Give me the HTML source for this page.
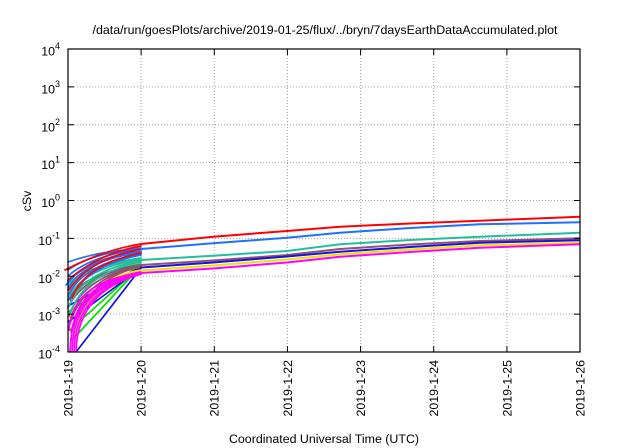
<!DOCTYPE html>
<html><head><meta charset="utf-8"><style>
html,body{margin:0;padding:0;background:#fff;}
svg{display:block;}
text{font-family:"Liberation Sans",Arial,sans-serif;fill:#000;}
</style></head><body>
<svg width="640" height="448" viewBox="0 0 640 448" xmlns="http://www.w3.org/2000/svg">
<rect width="640" height="448" fill="#fff"/>
<defs><clipPath id="pc"><rect x="63" y="49" width="517" height="303"/></clipPath></defs>
<!-- grid -->
<g stroke="#a0a0a0" stroke-width="1" stroke-dasharray="1,2" fill="none">
<line x1="141.1" y1="49" x2="141.1" y2="352"/>
<line x1="214.3" y1="49" x2="214.3" y2="352"/>
<line x1="287.4" y1="49" x2="287.4" y2="352"/>
<line x1="360.6" y1="49" x2="360.6" y2="352"/>
<line x1="433.7" y1="49" x2="433.7" y2="352"/>
<line x1="506.9" y1="49" x2="506.9" y2="352"/>
<line x1="68" y1="314.1" x2="580" y2="314.1"/>
<line x1="68" y1="276.3" x2="580" y2="276.3"/>
<line x1="68" y1="238.4" x2="580" y2="238.4"/>
<line x1="68" y1="200.5" x2="580" y2="200.5"/>
<line x1="68" y1="162.6" x2="580" y2="162.6"/>
<line x1="68" y1="124.8" x2="580" y2="124.8"/>
<line x1="68" y1="86.9" x2="580" y2="86.9"/>
</g>
<!-- data -->
<g clip-path="url(#pc)" fill="none" stroke-width="1.7" stroke-linejoin="round" stroke-linecap="round">
<g stroke="#00dd00">
<path d="M72,340 L141,266"/><path d="M70,330 L141,266"/><path d="M68,312 L141,265"/><path d="M68,300 C80,282 108,270 141,264"/>
</g>
<g stroke="#1414e6">
<path d="M76,352 L141,268"/><path d="M68,322 L141,268"/><path d="M68,306 L141,267"/>
</g>
<g stroke="#f2e200">
<path d="M70,318 C79,292 108,276 141,270"/><path d="M72,328 C80,298 108,278 141,271"/><path d="M73,338 C80,302 108,279 141,271"/>
</g>
<g stroke="#94506e">
<path d="M68,300 C79,280 108,269 141,265"/><path d="M68,308 C78,284 108,270 141,265"/><path d="M69,316 C78,288 108,271 141,266"/><path d="M70,324 C79,292 108,272 141,266"/><path d="M71,332 C80,296 108,273 141,267"/>
</g>
<g stroke="#20c09c">
<path d="M68,284 C82,270 110,262 141,258"/><path d="M68,290 C80,272 108,263 141,259"/><path d="M68,298 C79,276 108,264 141,260"/><path d="M69,306 C79,280 108,266 141,261"/><path d="M70,314 C80,284 108,268 141,262"/>
</g>
<g stroke="#2070ff">
<path d="M68,262 C88,255 112,250 141,249"/><path d="M68,270 C85,258 112,251 141,248"/><path d="M68,276 C84,262 110,253 141,249"/><path d="M68,282 C82,265 110,255 141,251"/><path d="M68,288 C80,268 108,257 141,252"/><path d="M69,294 C80,272 108,259 141,254"/><path d="M70,300 C80,276 108,261 141,255"/><path d="M66,285 C80,266 108,256 141,253"/>
</g>
<g stroke="#ff0000">
<path d="M65,270 C90,257 115,248 141,244"/><path d="M68,280 C88,263 112,251 141,246"/><path d="M69,290 C83,268 110,255 141,249"/><path d="M72,298 C82,272 108,260 141,253"/>
</g>
<g stroke="#ff00ff">
<path d="M70,352 C71,300 100,282 141,273"/><path d="M72,352 C73,302 100,283 141,273"/><path d="M74,352 C75,305 102,284 141,274"/><path d="M76,352 C77,308 102,285 141,274"/><path d="M71,340 C73,296 100,281 141,272"/><path d="M69,330 C72,292 100,280 141,272"/>
</g>
<!-- continuation -->
<g stroke-width="2">
<polyline stroke="#94506e" points="141,265 213,260.5 287,255 340,249 410,244.5 480,241 580,238.3"/>
<polyline stroke="#1414e6" points="141,267.5 213,262.5 287,256.5 340,251.7 410,247 480,242.7 580,240.3"/>
<polyline stroke="#f2e200" points="141,270.5 213,265.5 287,259.5 340,254.3 410,249.5 480,245.3 580,242.7"/>
<polyline stroke="#ff00ff" points="141,273 213,268.5 287,262.5 340,256.7 410,252 480,247.7 580,244.3"/>
<polyline stroke="#20c09c" points="141,260 213,255.7 287,251 340,244.3 410,240 480,236.7 580,232.7"/>
<polyline stroke="#2070ff" points="141,249 213,243.3 287,237.7 340,232.7 410,228 480,224.3 580,222.3"/>
<polyline stroke="#ff0000" points="141,244 213,236.7 287,231 340,226.7 410,223.5 480,220.7 580,216.7"/>
</g>
</g>
<!-- red start outside axis -->
<path d="M65,270 L68,268.5" stroke="#ff0000" stroke-width="1.7" fill="none"/>
<!-- ticks -->
<g stroke="#000" stroke-width="1">
<path d="M68,314.1h6M68,276.3h6M68,238.4h6M68,200.5h6M68,162.6h6M68,124.8h6M68,86.9h6"/>
<path d="M580,314.1h-6M580,276.3h-6M580,238.4h-6M580,200.5h-6M580,162.6h-6M580,124.8h-6M580,86.9h-6"/>
<path d="M141.1,352v-6M214.3,352v-6M287.4,352v-6M360.6,352v-6M433.7,352v-6M506.9,352v-6"/>
<path d="M141.1,49v6M214.3,49v6M287.4,49v6M360.6,49v6M433.7,49v6M506.9,49v6"/>
</g>
<!-- frame -->
<rect x="68" y="49" width="512" height="303" fill="none" stroke="#000" stroke-width="1.2"/>
<!-- title -->
<text x="325" y="34" font-size="12.4" text-anchor="middle">/data/run/goesPlots/archive/2019-01-25/flux/../bryn/7daysEarthDataAccumulated.plot</text>
<!-- y tick labels -->
<g font-size="12.4" text-anchor="end">
<text x="60" y="55.5">10<tspan font-size="9" dy="-6.5">4</tspan></text>
<text x="60" y="93.4">10<tspan font-size="9" dy="-6.5">3</tspan></text>
<text x="60" y="131.3">10<tspan font-size="9" dy="-6.5">2</tspan></text>
<text x="60" y="169.1">10<tspan font-size="9" dy="-6.5">1</tspan></text>
<text x="60" y="207">10<tspan font-size="9" dy="-6.5">0</tspan></text>
<text x="60" y="244.9">10<tspan font-size="9" dy="-6.5">-1</tspan></text>
<text x="60" y="282.8">10<tspan font-size="9" dy="-6.5">-2</tspan></text>
<text x="60" y="320.6">10<tspan font-size="9" dy="-6.5">-3</tspan></text>
<text x="60" y="358.5">10<tspan font-size="9" dy="-6.5">-4</tspan></text>
</g>
<!-- x tick labels -->
<g font-size="12.4" text-anchor="end">
<text transform="translate(72.4,360) rotate(-90)">2019-1-19</text>
<text transform="translate(145.5,360) rotate(-90)">2019-1-20</text>
<text transform="translate(218.7,360) rotate(-90)">2019-1-21</text>
<text transform="translate(291.8,360) rotate(-90)">2019-1-22</text>
<text transform="translate(365,360) rotate(-90)">2019-1-23</text>
<text transform="translate(438.1,360) rotate(-90)">2019-1-24</text>
<text transform="translate(511.3,360) rotate(-90)">2019-1-25</text>
<text transform="translate(584.4,360) rotate(-90)">2019-1-26</text>
</g>
<!-- axis titles -->
<text x="324" y="443" font-size="12.4" text-anchor="middle">Coordinated Universal Time (UTC)</text>
<text transform="translate(31,201) rotate(-90)" font-size="12.4" text-anchor="middle">cSv</text>
</svg>
</body></html>
